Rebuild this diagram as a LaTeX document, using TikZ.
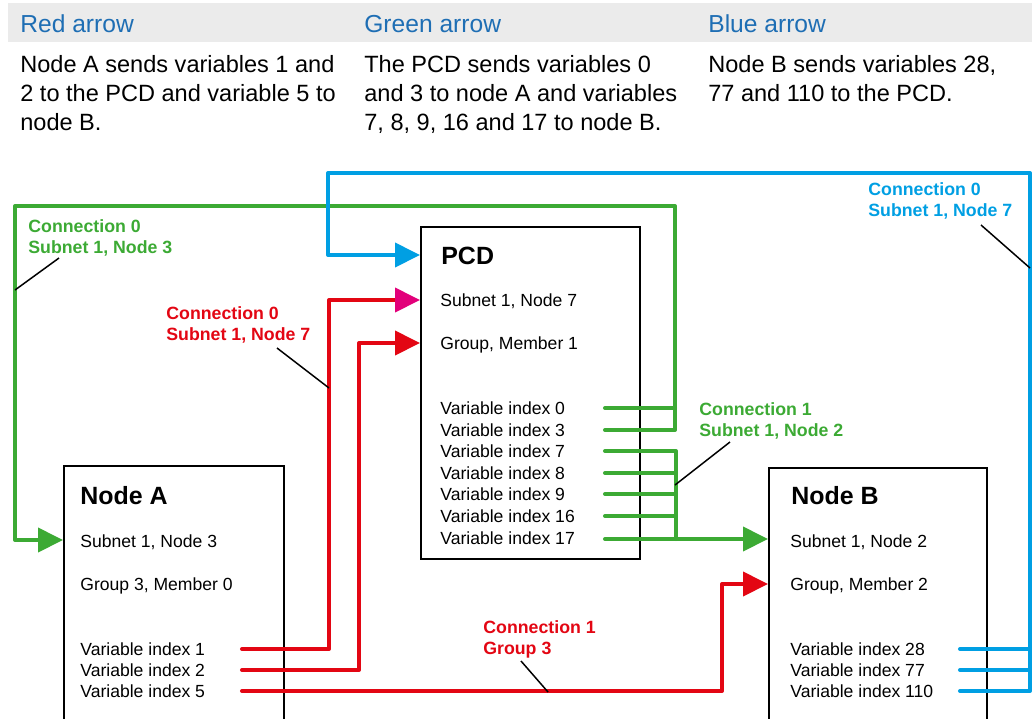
\documentclass[tikz,border=0pt]{standalone}
\usepackage{fontspec}
\setmainfont{Liberation Sans}
\usetikzlibrary{arrows.meta,calc}
\definecolor{redLine}{RGB}{227,6,19}
\definecolor{greenLine}{RGB}{60,170,52}
\definecolor{blueLine}{RGB}{0,159,227}
\definecolor{headBlue}{RGB}{30,110,180}
\definecolor{tipMag}{RGB}{226,0,122}
\definecolor{headBand}{RGB}{235,235,235}
\tikzset{
    box/.style={rectangle,draw=black,line width=1.15pt,anchor=north west,
        minimum width=4.38cm,inner sep=0},
    ttl/.style={anchor=base west,inner sep=0,font=\bfseries\fontsize{14.2}{17}\selectfont},
    txt/.style={anchor=base west,inner sep=0,font=\fontsize{10}{12}\selectfont},
    conn/.style={anchor=base west,inner sep=0,align=left,
        font=\bfseries\fontsize{10.1}{11.9}\selectfont},
    head/.style={anchor=base west,inner sep=0,text=headBlue,font=\fontsize{14}{17}\selectfont},
    body/.style={anchor=base west,inner sep=0,align=left,font=\fontsize{13.4}{16.4}\selectfont},
    wire/.style={line width=2.3pt,line cap=round,line join=round},
    arr/.style={wire,-{Triangle[length=0.5cm,width=0.48cm,#1]}},
    arr/.default={},
    leader/.style={line width=0.85pt,draw=black}
}

\begin{document}
\begin{tikzpicture}[x=0.02cm,y=-0.02cm]
    \useasboundingbox (0,0) rectangle (1032,718);
    \clip (0,0) rectangle (1032,718);

    % header (base of a multi-line node = last line)
    \fill[headBand] (8,3) rectangle (1032,42);
    \node[head] (hRed)   at ( 20,32) {Red arrow};
    \node[head] (hGreen) at (364,32) {Green arrow};
    \node[head] (hBlue)  at (708,32) {Blue arrow};
    \node[body] (tRed)   at ( 20,130) {Node A sends variables 1 and\\2 to the PCD and variable 5 to\\node B.};
    \node[body] (tGreen) at (364,130) {The PCD sends variables 0\\and 3 to node A and variables\\7, 8, 9, 16 and 17 to node B.};
    \node[body] (tBlue)  at (708,101) {Node B sends variables 28,\\77 and 110 to the PCD.};

    % boxes
    \node[box,minimum height=6.64cm]                 (pcd)   at (420,226) {};
    \node[box,minimum width=4.4cm,minimum height=6cm]  (nodeA) at ( 63,465) {};
    \node[box,minimum width=4.36cm,minimum height=6cm] (nodeB) at (768,467) {};

    \node[ttl] (pcdT)   at (441,264) {PCD};
    \node[txt] (pcdSub) at (440,306) {Subnet 1, Node 7};
    \node[txt] (pcdGrp) at (440,349) {Group, Member 1};
    \node[txt] (pv0)    at (440,414) {Variable index 0};
    \node[txt] (pv3)    at (440,436) {Variable index 3};
    \node[txt] (pv7)    at (440,457) {Variable index 7};
    \node[txt] (pv8)    at (440,479) {Variable index 8};
    \node[txt] (pv9)    at (440,500) {Variable index 9};
    \node[txt] (pv16)   at (440,522) {Variable index 16};
    \node[txt] (pv17)   at (440,544) {Variable index 17};

    \node[ttl] (aT)   at (80,504) {Node A};
    \node[txt] (aSub) at (80,547) {Subnet 1, Node 3};
    \node[txt] (aGrp) at (80,590) {Group 3, Member 0};
    \node[txt] (av1)  at (80,655) {Variable index 1};
    \node[txt] (av2)  at (80,676) {Variable index 2};
    \node[txt] (av5)  at (80,697) {Variable index 5};

    \node[ttl] (bT)    at (791,504) {Node B};
    \node[txt] (bSub)  at (790,547) {Subnet 1, Node 2};
    \node[txt] (bGrp)  at (790,590) {Group, Member 2};
    \node[txt] (bv28)  at (790,655) {Variable index 28};
    \node[txt] (bv77)  at (790,676) {Variable index 77};
    \node[txt] (bv110) at (790,697) {Variable index 110};

    % red
    \coordinate (ra1) at (242,649);
    \coordinate (ra2) at (242,670);
    \coordinate (ra5) at (242,691);
    \coordinate (rk1) at (329,300);
    \coordinate (rk2) at (359,343);
    \coordinate (rk5) at (722,584);
    \draw[arr={color=tipMag},redLine] (ra1) -| (rk1) -- (pcd.west |- rk1);
    \draw[arr,redLine] (ra2) -| (rk2) -- (pcd.west |- rk2);
    \draw[arr,redLine] (ra5) -| (rk5) -- (nodeB.west |- rk5);

    % green
    \coordinate (gp0)  at (605,408);
    \coordinate (gp3)  at (605,430);
    \coordinate (gp7)  at (605,451);
    \coordinate (gp8)  at (605,473);
    \coordinate (gp9)  at (605,494);
    \coordinate (gp16) at (605,516);
    \coordinate (gp17) at (605,539);
    \coordinate (gk1)  at (675,206);
    \coordinate (gk2)  at ( 15,540);
    \coordinate (gk3)  at (676,539);
    \draw[arr,greenLine] (gp3) -| (gk1) -| (gk2) -- (nodeA.west |- gk2);
    \draw[wire,greenLine] (gp0) -- (gp0 -| gk1);
    \draw[wire,greenLine] (gp7) -| (gk3);
    \draw[wire,greenLine] (gp8) -- (gp8 -| gk3);
    \draw[wire,greenLine] (gp9) -- (gp9 -| gk3);
    \draw[wire,greenLine] (gp16) -- (gp16 -| gk3);
    \draw[arr,greenLine] (gp17) -- (nodeB.west |- gp17);

    % blue
    \coordinate (bp28)  at (960,649);
    \coordinate (bp77)  at (960,670);
    \coordinate (bp110) at (960,691);
    \coordinate (bk1)   at (1030,173);
    \coordinate (bk2)   at (328,255);
    \draw[arr,blueLine] (bp110) -| (bk1) -| (bk2) -- (pcd.west |- bk2);
    \draw[wire,blueLine] (bp28) -- (bp28 -| bk1);
    \draw[wire,blueLine] (bp77) -- (bp77 -| bk1);

    % connection labels
    \node[conn,text=greenLine] (lblG0) at ( 28,253) {Connection 0\\Subnet 1, Node 3};
    \node[conn,text=redLine]   (lblR0) at (166,340) {Connection 0\\Subnet 1, Node 7};
    \node[conn,text=blueLine]  (lblB0) at (868,216) {Connection 0\\Subnet 1, Node 7};
    \node[conn,text=greenLine] (lblG1) at (699,436) {Connection 1\\Subnet 1, Node 2};
    \node[conn,text=redLine]   (lblR1) at (483,654) {Connection 1\\Group 3};

    \coordinate (ldG0) at ( 59,258);  \coordinate (lwG0) at (  15,290);
    \coordinate (ldR0) at (277,348);  \coordinate (lwR0) at ( 329,388);
    \coordinate (ldB0) at (981,225);  \coordinate (lwB0) at (1030,268);
    \coordinate (ldG1) at (730,442);  \coordinate (lwG1) at ( 675,485);
    \coordinate (ldR1) at (521,661);  \coordinate (lwR1) at ( 548,692);
    \draw[leader] (ldG0) -- (lwG0);
    \draw[leader] (ldR0) -- (lwR0);
    \draw[leader] (ldB0) -- (lwB0);
    \draw[leader] (ldG1) -- (lwG1);
    \draw[leader] (ldR1) -- (lwR1);
\end{tikzpicture}
\end{document}
